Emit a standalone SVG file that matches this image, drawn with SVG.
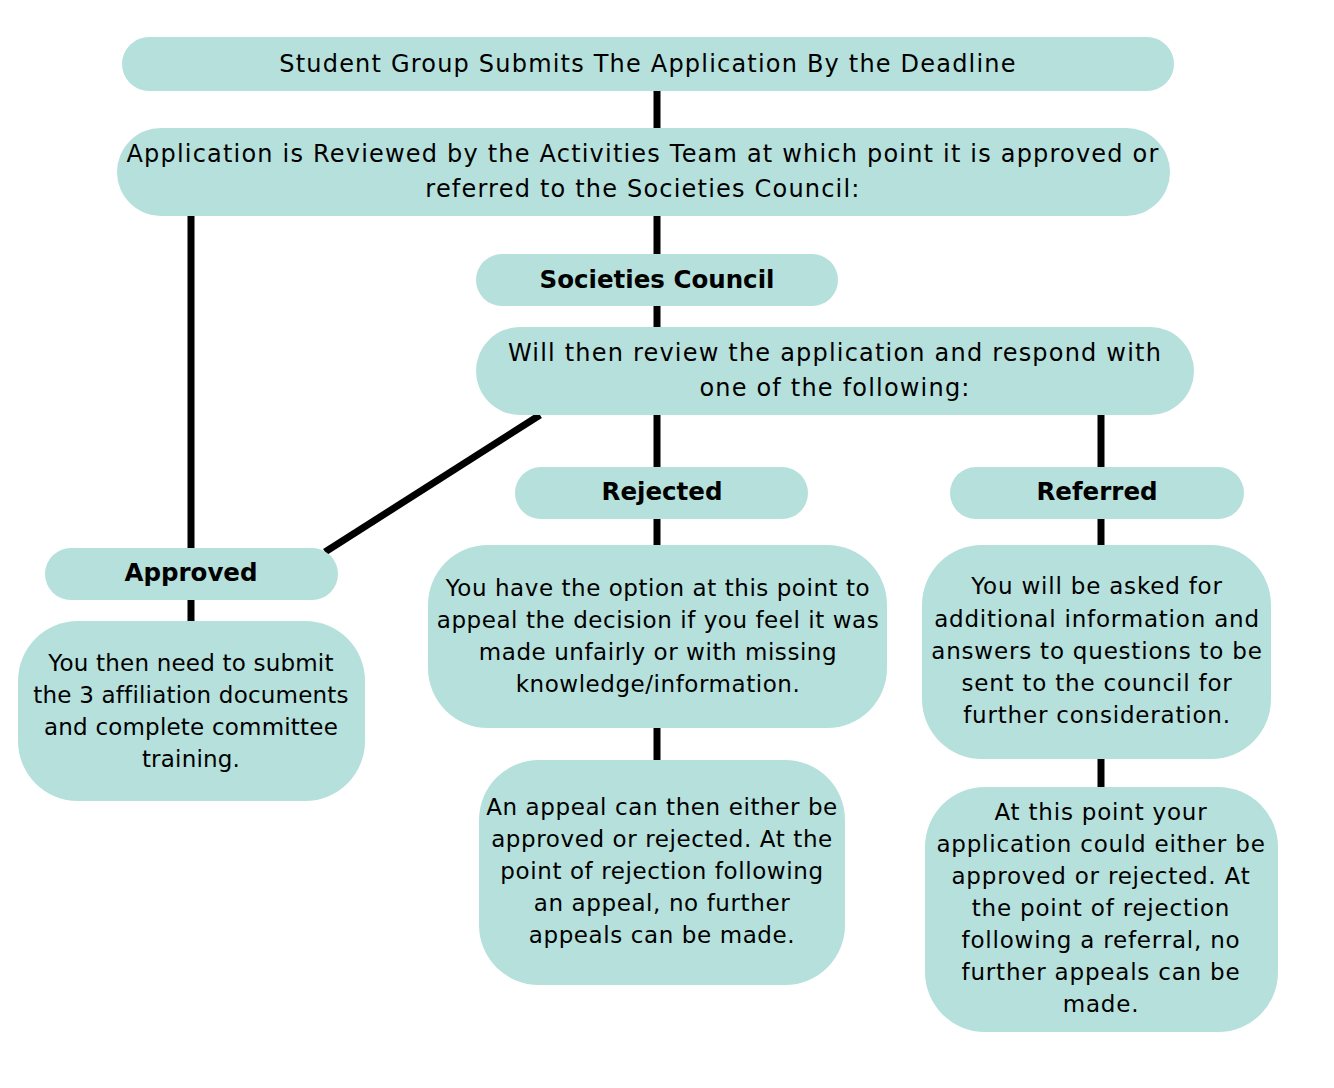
<svg xmlns="http://www.w3.org/2000/svg" width="1334" height="1088" viewBox="0 0 1334 1088">
<style>
.box{fill:#b5e0dc}
.t{font-family:"DejaVu Sans","Noto Sans",sans-serif;font-size:23px;fill:#000;text-anchor:middle}
.h{font-size:24px;letter-spacing:1.2px}
.b{font-family:"DejaVu Sans","Noto Sans",sans-serif;font-size:24.5px;font-weight:bold;fill:#000;text-anchor:middle}
.c{stroke:#000;stroke-width:7;fill:none}
</style>
<rect width="1334" height="1088" fill="#fff"/>
<g id="connectors">
<line class="c" x1="657" y1="91" x2="657" y2="128"/>
<line class="c" x1="191" y1="216" x2="191" y2="548"/>
<line class="c" x1="657" y1="216" x2="657" y2="254"/>
<line class="c" x1="657" y1="306" x2="657" y2="327"/>
<line class="c" x1="540" y1="415" x2="325" y2="552"/>
<line class="c" x1="657" y1="415" x2="657" y2="467"/>
<line class="c" x1="1101" y1="415" x2="1101" y2="467"/>
<line class="c" x1="657" y1="519" x2="657" y2="545"/>
<line class="c" x1="1101" y1="519" x2="1101" y2="545"/>
<line class="c" x1="191" y1="600" x2="191" y2="621"/>
<line class="c" x1="657" y1="728" x2="657" y2="760"/>
<line class="c" x1="1101" y1="759" x2="1101" y2="787"/>
</g>
<g id="submit">
<rect class="box" x="122" y="37" width="1052" height="54" rx="27"/>
<text class="t h" x="648" y="72">Student Group Submits The Application By the Deadline</text>
</g>
<g id="review">
<rect class="box" x="117" y="128" width="1053" height="88" rx="44"/>
<text class="t h" x="643" y="162">Application is Reviewed by the Activities Team at which point it is approved or</text>
<text class="t h" x="643" y="197">referred to the Societies Council:</text>
</g>
<g id="council">
<rect class="box" x="476" y="254" width="362" height="52" rx="26"/>
<text class="b" x="657" y="288">Societies Council</text>
</g>
<g id="respond">
<rect class="box" x="476" y="327" width="718" height="88" rx="44"/>
<text class="t h" x="835" y="361">Will then review the application and respond with</text>
<text class="t h" x="835" y="396">one of the following:</text>
</g>
<g id="rejected">
<rect class="box" x="515" y="467" width="293" height="52" rx="26"/>
<text class="b" x="662" y="500">Rejected</text>
</g>
<g id="referred">
<rect class="box" x="950" y="467" width="294" height="52" rx="26"/>
<text class="b" x="1097" y="500">Referred</text>
</g>
<g id="approved">
<rect class="box" x="45" y="548" width="293" height="52" rx="26"/>
<text class="b" x="191" y="581">Approved</text>
</g>
<g id="approved-detail" style="letter-spacing:0.2px">
<rect class="box" x="18" y="621" width="347" height="180" rx="60"/>
<text class="t" x="191" y="671">You then need to submit</text>
<text class="t" x="191" y="703">the 3 affiliation documents</text>
<text class="t" x="191" y="735">and complete committee</text>
<text class="t" x="191" y="767">training.</text>
</g>
<g id="rejected-detail" style="letter-spacing:0.55px">
<rect class="box" x="428" y="545" width="459" height="183" rx="60"/>
<text class="t" x="658" y="596">You have the option at this point to</text>
<text class="t" x="658" y="628">appeal the decision if you feel it was</text>
<text class="t" x="658" y="660">made unfairly or with missing</text>
<text class="t" x="658" y="692">knowledge/information.</text>
</g>
<g id="appeal" style="letter-spacing:0.6px">
<rect class="box" x="479" y="760" width="366" height="225" rx="60"/>
<text class="t" x="662" y="815">An appeal can then either be</text>
<text class="t" x="662" y="847">approved or rejected. At the</text>
<text class="t" x="662" y="879">point of rejection following</text>
<text class="t" x="662" y="911">an appeal, no further</text>
<text class="t" x="662" y="943">appeals can be made.</text>
</g>
<g id="referred-detail" style="letter-spacing:0.8px">
<rect class="box" x="922" y="545" width="349" height="214" rx="60"/>
<text class="t" x="1097" y="594">You will be asked for</text>
<text class="t" x="1097" y="627">additional information and</text>
<text class="t" x="1097" y="659">answers to questions to be</text>
<text class="t" x="1097" y="691">sent to the council for</text>
<text class="t" x="1097" y="723">further consideration.</text>
</g>
<g id="referral-outcome" style="letter-spacing:0.8px">
<rect class="box" x="925" y="787" width="353" height="245" rx="60"/>
<text class="t" x="1101" y="820">At this point your</text>
<text class="t" x="1101" y="852">application could either be</text>
<text class="t" x="1101" y="884">approved or rejected. At</text>
<text class="t" x="1101" y="916">the point of rejection</text>
<text class="t" x="1101" y="948">following a referral, no</text>
<text class="t" x="1101" y="980">further appeals can be</text>
<text class="t" x="1101" y="1012">made.</text>
</g>
</svg>
